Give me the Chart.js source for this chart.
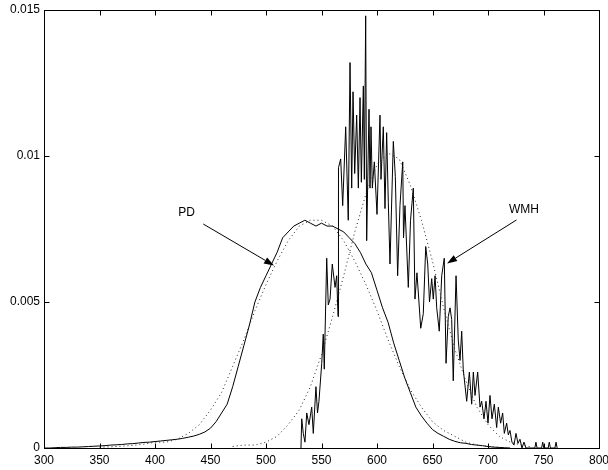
<!DOCTYPE html>
<html>
<head>
<meta charset="utf-8">
<script src="https://cdn.jsdelivr.net/npm/chart.js@4.4.1/dist/chart.umd.min.js"></script>
<style>
  html, body { margin: 0; padding: 0; background: #fff; }
  #spectra { display: block; }
</style>
</head>
<body>
<canvas id="spectra" width="608" height="470"></canvas>
<script>
// --- 1. DATA (wavelength in nm, normalised intensity) ---

const xTicks = [300, 350, 400, 450, 500, 550, 600, 650, 700, 750, 800];
const yTicks = [0, 0.005, 0.01, 0.015];
const yTickLabels = ['0', '0.005', '0.01', '0.015'];

// PD measured spectrum (solid)
const pdNm = [300, 305, 310, 315, 320, 325, 330, 335, 340, 345, 350, 355, 360, 365, 370, 375,
    380, 385, 390, 395, 400, 405, 410, 415, 420, 425, 430, 435, 440, 445, 450, 455, 460, 465,
    470, 475, 480, 485, 490, 495, 500, 505, 510, 515, 520, 525, 530, 535, 540, 545, 550, 555,
    560, 565, 570, 575, 580, 585, 590, 595, 600, 605, 610, 615, 620, 625, 630, 635, 640, 645,
    650, 655, 660, 665, 670, 675, 680, 685, 690, 695, 700, 705, 710, 715, 720];
const pdVal = [0, 0, 0.00001, 0.00002, 0.00002, 0.00003, 0.00003, 0.00004, 0.00005, 0.00006,
    0.00007, 0.00008, 0.0001, 0.00011, 0.00012, 0.00014, 0.00015, 0.00017, 0.00019, 0.0002,
    0.00022, 0.00024, 0.00026, 0.00028, 0.0003, 0.00033, 0.00037, 0.00041, 0.00047, 0.00055,
    0.00068, 0.0009, 0.0012, 0.0015, 0.0021, 0.0028, 0.0035, 0.0042, 0.005, 0.0055, 0.0059,
    0.0063, 0.0067, 0.0072, 0.0074, 0.0076, 0.0077, 0.0078, 0.0077, 0.0076, 0.0077, 0.0076,
    0.0076, 0.0075, 0.0074, 0.0072, 0.007, 0.0067, 0.0063, 0.006, 0.0054, 0.0048, 0.0043,
    0.0036, 0.003, 0.0024, 0.0019, 0.0014, 0.0011, 0.00085, 0.00063, 0.0005, 0.0004, 0.0003,
    0.00023, 0.00018, 0.00016, 0.00012, 0.0001, 0.00008, 0.00005, 0.00003, 0.00002, 0.00001, 0];

// PD fitted curve (dotted)
const pdFitNm = [350, 360, 370, 380, 390, 400, 410, 420, 430, 440, 450, 460, 470, 480, 490, 500,
    510, 520, 530, 540, 550, 560, 570, 580, 590, 600, 610, 620, 630, 640, 650, 660, 670, 680,
    690, 700, 710];
const pdFitVal = [0.00003, 0.00004, 0.00006, 0.00009, 0.00013, 0.0002, 0.0002, 0.0003, 0.0005,
    0.0008, 0.0013, 0.0019, 0.0028, 0.0037, 0.0047, 0.0056, 0.0064, 0.0071, 0.0076, 0.0078,
    0.0078, 0.0076, 0.0071, 0.0064, 0.0056, 0.0047, 0.0037, 0.0028, 0.002, 0.0014, 0.0009,
    0.0006, 0.0004, 0.0002, 0.0001, 0.00005, 0.00002];

// WMH measured spectrum (solid, noisy)
const wmhNm = [531.5, 532.2, 533.6, 535.1, 536.7, 538.7, 541.2, 542.6, 545.0, 546.4, 547.7,
    550.2, 551.6, 552.5, 554.7, 556.1, 557.7, 559.7, 562.2, 563.7, 564.9, 565.3, 567.3, 569.1,
    571.8, 574.1, 575.7, 577.2, 578.4, 579.9, 581.7, 583.2, 584.7, 585.9, 587.7, 588.6, 589.8,
    590.7, 592.8, 593.7, 594.6, 595.8, 597.6, 600.0, 602.7, 603.6, 605.7, 607.2, 608.7, 610.2,
    611.7, 614.7, 616.5, 618.6, 620.7, 623.2, 623.9, 625.2, 628.2, 630.2, 632.7, 634.2, 636.0,
    639.4, 641.7, 643.9, 645.7, 647.3, 649.3, 650.7, 652.3, 653.8, 656.1, 658.3, 660.6, 662.2,
    664.2, 665.8, 667.3, 668.7, 671.2, 673.2, 674.8, 676.3, 677.7, 680.8, 683.2, 685.3, 686.8,
    688.3, 690.7, 692.8, 694.3, 696.4, 698.2, 700.0, 701.8, 703.6, 705.7, 707.8, 709.3, 711.4,
    713.2, 714.7, 716.8, 718.3, 719.8, 721.6, 723.4, 725.2, 727.0, 728.8, 730.6, 732.4, 734.2,
    742.2, 743.2, 744.2, 748.3, 749.3, 750.3, 754.2, 755.2, 756.2, 760.3, 761.3, 762.3];
const wmhVal = [0, 0.001, 0.0005, 0.0002, 0.0012, 0.0008, 0.0014, 0.0005, 0.0021, 0.0012, 0.0016,
    0.0029, 0.0039, 0.0027, 0.0065, 0.0049, 0.0051, 0.0063, 0.0055, 0.0059, 0.0045, 0.0096,
    0.0099, 0.0083, 0.011, 0.0078, 0.0132, 0.0089, 0.0122, 0.0094, 0.0114, 0.0089, 0.012,
    0.0091, 0.0124, 0.0092, 0.0148, 0.0071, 0.0116, 0.0089, 0.011, 0.0089, 0.0098, 0.008,
    0.0114, 0.0092, 0.011, 0.0082, 0.0108, 0.0084, 0.0063, 0.0105, 0.0093, 0.0059, 0.0083,
    0.0098, 0.0072, 0.0083, 0.0055, 0.0078, 0.0089, 0.0051, 0.006, 0.0041, 0.0046, 0.0069,
    0.0063, 0.005, 0.0058, 0.0051, 0.0059, 0.0048, 0.004, 0.0059, 0.0065, 0.0029, 0.0045,
    0.0048, 0.0044, 0.0023, 0.0059, 0.0037, 0.003, 0.004, 0.0027, 0.0016, 0.0026, 0.0015,
    0.0026, 0.0018, 0.0026, 0.0014, 0.0016, 0.001, 0.0016, 0.00085, 0.0018, 0.001, 0.0015,
    0.0007, 0.0014, 0.00085, 0.0012, 0.0005, 0.00085, 0.00045, 0.0006, 0.0002, 0.0001, 0.0005,
    0.00016, 0.0003, 0, 0.0002, 0, 0, 0.0002, 0, 0, 0.0002, 0, 0, 0.0002, 0, 0, 0.0002, 0];

// WMH fitted curve (dotted)
const wmhFitNm = [470, 480, 490, 500, 510, 520, 530, 540, 550, 560, 570, 580, 590, 600, 610, 620,
    630, 640, 650, 660, 670, 680, 690, 700, 710, 720, 730, 740];
const wmhFitVal = [0.00005, 0.0001, 0.0001, 0.0002, 0.0004, 0.0008, 0.0013, 0.0021, 0.0032,
    0.0045, 0.0059, 0.0074, 0.0087, 0.0097, 0.0101, 0.0099, 0.009, 0.0078, 0.0064, 0.0048,
    0.0034, 0.0023, 0.0014, 0.0008, 0.0004, 0.0002, 0.0001, 0.00003];

// text labels with arrows, in data units
const labels = [
    { text: 'PD', at: [428.4, 0.00805], from: [443.5, 0.00767], to: [507.2, 0.00625] },
    { text: 'WMH', at: [732.4, 0.00815], from: [725.7, 0.00781], to: [663.1, 0.00632] }
];

// --- 2. HELPERS ---

const toPoints = (xs, ys) => xs.map((x, i) => ({ x: x, y: ys[i] }));
const FONT = { family: '"Liberation Sans", Arial, Helvetica, sans-serif', size: 12 };

// box round the plot, inward ticks on all four sides, arrows and labels
const matlabAxes = {
    id: 'matlabAxes',
    afterDatasetsDraw(chart) {
        const { ctx, chartArea: a, scales } = chart;
        const L = Math.round(a.left) + 0.5, R = Math.round(a.right) + 0.5;
        const T = Math.round(a.top) + 0.5, B = Math.round(a.bottom) + 0.5;
        const tick = 5;
        ctx.save();
        ctx.strokeStyle = '#000';
        ctx.lineWidth = 1;
        ctx.strokeRect(L, T, R - L, B - T);
        ctx.beginPath();
        xTicks.forEach(v => {
            const x = Math.round(scales.x.getPixelForValue(v)) + 0.5;
            ctx.moveTo(x, B); ctx.lineTo(x, B - tick);
            ctx.moveTo(x, T); ctx.lineTo(x, T + tick);
        });
        yTicks.forEach(v => {
            const y = Math.round(scales.y.getPixelForValue(v)) + 0.5;
            ctx.moveTo(L, y); ctx.lineTo(L + tick, y);
            ctx.moveTo(R, y); ctx.lineTo(R - tick, y);
        });
        ctx.stroke();

        ctx.fillStyle = '#000';
        ctx.font = FONT.size + 'px ' + FONT.family;
        ctx.textAlign = 'center';
        ctx.textBaseline = 'middle';
        labels.forEach(l => {
            const px = v => [scales.x.getPixelForValue(v[0]), scales.y.getPixelForValue(v[1])];
            const [tx, ty] = px(l.at);
            const [x0, y0] = px(l.from);
            const [x1, y1] = px(l.to);
            ctx.fillText(l.text, tx, ty);
            const ang = Math.atan2(y1 - y0, x1 - x0);
            const len = 10, half = 3.5;
            const bx = x1 - len * Math.cos(ang), by = y1 - len * Math.sin(ang);
            ctx.beginPath();
            ctx.moveTo(x0, y0);
            ctx.lineTo(bx, by);
            ctx.stroke();
            ctx.beginPath();
            ctx.moveTo(x1, y1);
            ctx.lineTo(bx + half * Math.sin(ang), by - half * Math.cos(ang));
            ctx.lineTo(bx - half * Math.sin(ang), by + half * Math.cos(ang));
            ctx.closePath();
            ctx.fill();
        });
        ctx.restore();
    }
};

// --- 3. CHART ---

const solid = (data) => ({
    data: data, borderColor: '#000', borderWidth: 1, pointRadius: 0, fill: false, tension: 0
});
const dotted = (data) => ({
    data: data, borderColor: '#222', borderWidth: 1, borderDash: [1, 3], pointRadius: 0,
    fill: false, tension: 0
});

new Chart(document.getElementById('spectra'), {
    type: 'line',
    data: {
        datasets: [
            dotted(toPoints(pdFitNm, pdFitVal)),
            dotted(toPoints(wmhFitNm, wmhFitVal)),
            solid(toPoints(pdNm, pdVal)),
            solid(toPoints(wmhNm, wmhVal))
        ]
    },
    options: {
        responsive: false,
        animation: false,
        layout: { padding: { top: 10, right: 9, left: 0, bottom: 0 } },
        plugins: { legend: { display: false }, tooltip: { enabled: false } },
        scales: {
            x: {
                type: 'linear', min: 300, max: 800,
                grid: { display: false, drawTicks: false },
                border: { display: false },
                ticks: { stepSize: 50, color: '#000', font: FONT, padding: 5, maxRotation: 0,
                    autoSkip: false, callback: v => String(v) },
                afterFit: s => { s.height = 22; s.paddingLeft = 0; s.paddingRight = 0; }
            },
            y: {
                type: 'linear', min: 0, max: 0.015,
                grid: { display: false, drawTicks: false },
                border: { display: false },
                ticks: { stepSize: 0.005, color: '#000', font: FONT, padding: 4,
                    callback: v => {
                        const i = yTicks.findIndex(t => Math.abs(t - v) < 1e-9);
                        return i < 0 ? '' : yTickLabels[i];
                    } },
                afterFit: s => { s.width = 44; s.paddingTop = 0; s.paddingBottom = 0; }
            }
        }
    },
    plugins: [matlabAxes]
});
</script>
</body>
</html>
